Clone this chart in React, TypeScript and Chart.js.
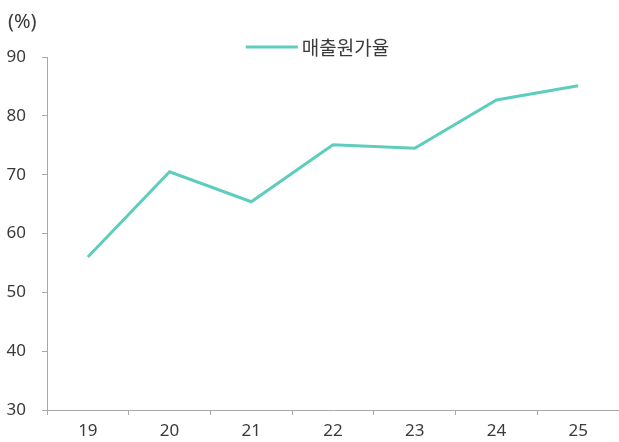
import React, { useEffect, useRef } from "react";
import { Chart, registerables } from "chart.js";

Chart.register(...registerables);

const categories = ["19", "20", "21", "22", "23", "24", "25"];
const costRatio = [56.0, 70.5, 65.4, 75.1, 74.5, 82.7, 85.1];
const seriesLabel = "매출원가율";
const yTicks = [30, 40, 50, 60, 70, 80, 90];
const unitLabel = "(%)";

const LINE = "#5FCDBD";
const AXIS = "#A8A8A8";
const TEXT = "#3A3A3A";
const FONT = "'Noto Sans', 'Noto Sans CJK KR', sans-serif";
const KFONT = "'Noto Sans CJK KR', 'Noto Sans', sans-serif";

const overlayPlugin = {
  id: "overlayLegend",
  afterDraw(chart: any) {
    const ctx = chart.ctx;
    ctx.save();
    ctx.fillStyle = TEXT;
    ctx.textBaseline = "middle";
    ctx.textAlign = "left";
    ctx.font = `20px ${FONT}`;
    ctx.fillText(unitLabel, 8, 22);

    const ds = chart.data.datasets[0];
    ctx.font = `19px ${KFONT}`;
    const tw = ctx.measureText(ds.label).width;
    const lineW = 52;
    const gap = 4;
    const total = lineW + gap + tw;
    const x0 = chart.width / 2 + 8 - total / 2;
    const y = 47;
    ctx.strokeStyle = ds.borderColor;
    ctx.lineWidth = ds.borderWidth;
    ctx.beginPath();
    ctx.moveTo(x0, y);
    ctx.lineTo(x0 + lineW, y);
    ctx.stroke();
    ctx.fillStyle = TEXT;
    ctx.fillText(ds.label, x0 + lineW + gap, y + 1);
    ctx.restore();
  },
};

export default function App() {
  const ref = useRef<HTMLCanvasElement>(null);

  useEffect(() => {
    if (!ref.current) return;
    const chart = new Chart(ref.current, {
      type: "line",
      data: {
        labels: categories,
        datasets: [
          {
            label: seriesLabel,
            data: costRatio,
            borderColor: LINE,
            backgroundColor: LINE,
            borderWidth: 3,
            pointRadius: 0,
            tension: 0,
            fill: false,
          },
        ],
      },
      options: {
        responsive: false,
        animation: false,
        layout: { padding: { top: 57, left: 0, right: 0, bottom: 0 } },
        plugins: {
          legend: { display: false },
          tooltip: { enabled: false },
        },
        scales: {
          x: {
            type: "category",
            offset: true,
            grid: {
              display: true,
              offset: true,
              drawOnChartArea: false,
              drawTicks: true,
              tickLength: 5,
              color: AXIS,
            },
            border: { display: true, color: AXIS, width: 1 },
            ticks: {
              color: TEXT,
              font: { family: FONT, size: 17 },
              padding: 6,
              maxRotation: 0,
            },
            afterFit: (s: any) => {
              s.height = 32;
            },
          },
          y: {
            min: 30,
            max: 90,
            grid: {
              display: true,
              drawOnChartArea: false,
              drawTicks: true,
              tickLength: 5,
              color: AXIS,
            },
            border: { display: true, color: AXIS, width: 1 },
            ticks: {
              color: TEXT,
              font: { family: FONT, size: 17 },
              padding: 16,
            },
            afterBuildTicks: (s: any) => {
              s.ticks = yTicks.map((v) => ({ value: v }));
            },
            afterFit: (s: any) => {
              s.width = 47;
            },
          },
        },
      },
      plugins: [overlayPlugin],
    });
    return () => chart.destroy();
  }, []);

  return (
    <div style={{ position: "fixed", left: 0, top: 0, width: 619, height: 442, background: "#fff" }}>
      <canvas ref={ref} width={619} height={442} style={{ display: "block" }} />
    </div>
  );
}
